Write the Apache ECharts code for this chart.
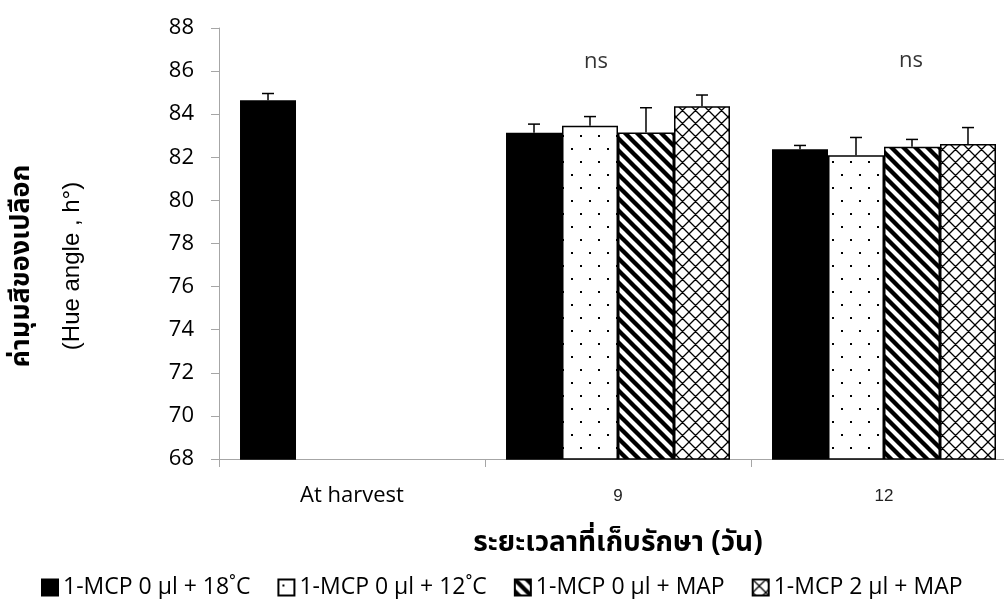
<!DOCTYPE html>
<html>
<head>
<meta charset="utf-8">
<script src="https://cdn.jsdelivr.net/npm/echarts@6/dist/echarts.min.js"></script>
<style>
  html, body { margin: 0; padding: 0; background: #fff; }
  #chart { width: 1004px; height: 599px; }
</style>
</head>
<body>
<div id="chart"></div>
<script>
// Storage time groups and treatments
const categories = ['At harvest', '9', '12'];
const seriesNames = ['1-MCP 0 µl + 18˚C', '1-MCP 0 µl + 12˚C', '1-MCP 0 µl + MAP', '1-MCP 2 µl + MAP'];

// Mean hue angle (h°) per treatment
const hue18C = [84.65, 83.14, 82.37];
const hue12C = [null, 83.46, 82.09];
const hueMAP0 = [null, 83.15, 82.49];
const hueMAP2 = [null, 84.37, 82.62];

// Standard error per treatment
const se18C = [0.31, 0.40, 0.18];
const se12C = [null, 0.43, 0.83];
const seMAP0 = [null, 1.15, 0.34];
const seMAP2 = [null, 0.52, 0.76];

// Significance notes above the groups
const sigText = [null, 'ns', 'ns'];
const sigLevel = [null, 86.45, 86.5];

// Value axis
const yMin = 68, yMax = 88, yStep = 2;

const CAT_GAP = 0.158;
const THAI = "'Noto Sans Thai', 'Noto Sans Thai UI', 'Loma', 'Garuda', 'Noto Sans', 'DejaVu Sans', sans-serif";
const BODY = "'Open Sans', 'Noto Sans', sans-serif";

// Fill patterns
function tile(w, h, draw) {
  const c = document.createElement('canvas');
  c.width = w; c.height = h;
  const g = c.getContext('2d');
  g.fillStyle = '#fff';
  g.fillRect(0, 0, w, h);
  draw(g, w, h);
  return { image: c, repeat: 'repeat' };
}
const dotFill = tile(18, 26, g => {
  g.fillStyle = '#000';
  g.fillRect(4, 5, 2, 2);
  g.fillRect(13, 18, 2, 2);
});
const stripeFill = tile(12, 12, (g, w, h) => {
  g.strokeStyle = '#000';
  g.lineWidth = 4.3;
  g.beginPath();
  for (let k = -1; k <= 1; k++) {
    g.moveTo(k * w - 3, -3);
    g.lineTo(k * w + w + 3, h + 3);
  }
  g.stroke();
});
const crossFill = tile(13, 13, (g, w, h) => {
  g.strokeStyle = '#000';
  g.lineWidth = 1.3;
  g.beginPath();
  for (let k = -1; k <= 1; k++) {
    g.moveTo(k * w - 3, -3);
    g.lineTo(k * w + w + 3, h + 3);
    g.moveTo(k * w + w + 3, -3);
    g.lineTo(k * w - 3, h + 3);
  }
  g.stroke();
});

const means = [hue18C, hue12C, hueMAP0, hueMAP2];
const errs = [se18C, se12C, seMAP0, seMAP2];
const fills = ['#000', dotFill, stripeFill, crossFill];

const barSeries = seriesNames.map((name, s) => ({
  name,
  type: 'bar',
  data: means[s],
  barGap: '0%',
  barCategoryGap: (CAT_GAP * 100) + '%',
  itemStyle: { color: fills[s], borderColor: '#000', borderWidth: 1.5 },
  emphasis: { disabled: true },
  z: 2
}));

const errItems = [];
means.forEach((vals, s) => vals.forEach((v, i) => {
  if (v != null) errItems.push([i, v, v + errs[s][i], s]);
}));

const errSeries = {
  type: 'custom',
  name: 'se',
  data: errItems,
  encode: { x: 0, y: [1, 2] },
  z: 5,
  silent: true,
  renderItem(params, api) {
    const i = api.value(0), s = api.value(3);
    const catW = api.size([1, 0])[0];
    const barW = catW * (1 - CAT_GAP) / 4;
    const x = api.coord([i, yMin])[0] + (s - 1.5) * barW;
    const y0 = api.coord([i, api.value(1)])[1];
    const y1 = api.coord([i, api.value(2)])[1];
    const st = { stroke: '#000', lineWidth: 1.5 };
    return {
      type: 'group',
      children: [
        { type: 'line', shape: { x1: x, y1: y0, x2: x, y2: y1 }, style: st },
        { type: 'line', shape: { x1: x - 6, y1: y1, x2: x + 6, y2: y1 }, style: st }
      ]
    };
  }
};

const sigOffsets = [0, -22, 27];
const sigSeries = {
  type: 'scatter',
  name: 'sig',
  silent: true,
  symbolSize: 1,
  itemStyle: { color: 'rgba(0,0,0,0)' },
  data: sigText.map((t, i) => t ? {
    value: [i, sigLevel[i]],
    label: { show: true, formatter: t, position: 'inside', offset: [sigOffsets[i], 0] }
  } : null).filter(Boolean),
  label: { color: '#000', fontFamily: BODY, fontSize: 22 },
  z: 6
};

const chart = echarts.init(document.getElementById('chart'), null, { renderer: 'canvas' });
chart.setOption({
  animation: false,
  backgroundColor: '#fff',
  grid: { left: 219, top: 28, width: 798, height: 431, containLabel: false, outerBoundsMode: 'none' },
  xAxis: {
    type: 'category',
    data: categories,
    axisLine: { lineStyle: { color: '#a6a6a6', width: 1 } },
    axisTick: { show: true, length: 8, lineStyle: { color: '#a6a6a6' } },
    axisLabel: {
      margin: 37,
      verticalAlign: 'middle',
      formatter: (v, i) => i === 0 ? '{a|' + v + '}' : '{b|' + v + '}',
      rich: {
        a: { fontFamily: BODY, fontSize: 22, color: '#000' },
        b: { fontFamily: "'Liberation Sans Narrow', 'Liberation Sans', sans-serif", fontSize: 17, color: '#222' }
      }
    }
  },
  yAxis: {
    type: 'value',
    min: yMin, max: yMax, interval: yStep,
    axisLine: { show: true, lineStyle: { color: '#a6a6a6', width: 1 } },
    axisTick: { show: true, length: 8, lineStyle: { color: '#a6a6a6' } },
    splitLine: { show: false },
    axisLabel: { margin: 25, fontFamily: BODY, fontSize: 22, color: '#000' }
  },
  legend: {
    data: seriesNames,
    left: 36,
    top: 571,
    itemWidth: 16,
    itemHeight: 16,
    itemGap: 27,
    icon: 'rect',
    selectedMode: false,
    textStyle: { fontFamily: BODY, fontSize: 23, color: '#000' }
  },
  graphic: [
    {
      type: 'text', x: 24, y: 266, rotation: Math.PI / 2,
      style: { text: 'ค่ามุมสีของเปลือก', font: 'bold 27px ' + THAI, fill: '#000', align: 'center', verticalAlign: 'middle' }
    },
    {
      type: 'text', x: 72, y: 266, rotation: Math.PI / 2,
      style: { text: '(Hue angle , h°)', font: '24px "Liberation Sans", Arial, sans-serif', fill: '#000', align: 'center', verticalAlign: 'middle' }
    },
    {
      type: 'text', x: 618, y: 545,
      style: { text: 'ระยะเวลาที่เก็บรักษา (วัน)', font: 'bold 28px ' + THAI, fill: '#000', align: 'center', verticalAlign: 'middle' }
    }
  ],
  series: [...barSeries, errSeries, sigSeries]
});
</script>
</body>
</html>
